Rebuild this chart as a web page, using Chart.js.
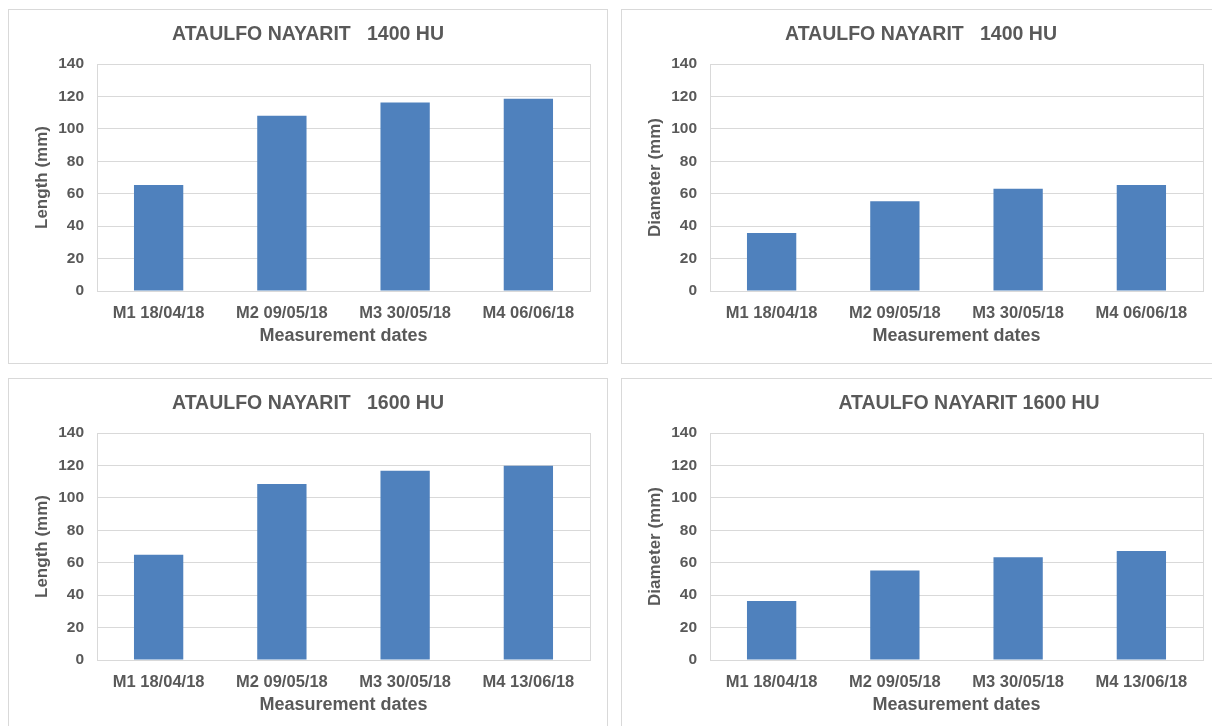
<!DOCTYPE html>
<html>
<head>
<meta charset="utf-8">
<title>Ataulfo Nayarit - length and diameter</title>
<script src="https://cdn.jsdelivr.net/npm/chart.js@4.4.1/dist/chart.umd.min.js"></script>
<style>
  body { margin: 0; background: #fff; width: 1212px; height: 726px; overflow: hidden; position: relative; }
  .panel { position: absolute; width: 598px; height: 353px; border: 1px solid #d9d9d9; background: #fff; }
  .panel canvas { display: block; }
</style>
</head>
<body>
<div class="panel" style="left:8px;top:9px"><canvas id="len1400" width="598" height="353"></canvas></div>
<div class="panel" style="left:621px;top:9px"><canvas id="dia1400" width="598" height="353"></canvas></div>
<div class="panel" style="left:8px;top:378px"><canvas id="len1600" width="598" height="353"></canvas></div>
<div class="panel" style="left:621px;top:378px"><canvas id="dia1600" width="598" height="353"></canvas></div>

<script>
// Data
const dates1400 = ["M1 18/04/18", "M2 09/05/18", "M3 30/05/18", "M4 06/06/18"];
const dates1600 = ["M1 18/04/18", "M2 09/05/18", "M3 30/05/18", "M4 13/06/18"];
const length1400 = [65.3, 108.1, 116.3, 118.6];
const diameter1400 = [35.8, 55.4, 63.0, 65.3];
const length1600 = [64.9, 108.5, 116.7, 119.8];
const diameter1600 = [36.4, 55.2, 63.4, 67.3];
const yMax = 140;
const yStep = 20;

const FONT = "'Liberation Sans', Arial, sans-serif";
const TEXT = "#595959";
const GRID = "#d9d9d9";
const BAR = "#4f81bd";

// Plot area border + chart title
const panelFrame = {
  id: "panelFrame",
  beforeDatasetsDraw(chart) {
    const { ctx, chartArea: a } = chart;
    ctx.save();
    ctx.strokeStyle = GRID;
    ctx.lineWidth = 1;
    ctx.strokeRect(Math.round(a.left) + 0.5, Math.round(a.top) + 0.5,
      Math.round(a.right - a.left), Math.round(a.bottom - a.top));
    ctx.restore();
  },
  afterDraw(chart, args, opts) {
    const ctx = chart.ctx;
    ctx.save();
    ctx.font = "bold 19.5px " + FONT;
    ctx.fillStyle = TEXT;
    ctx.textAlign = "center";
    ctx.textBaseline = "alphabetic";
    ctx.fillText(opts.text, chart.width / 2 + (opts.dx || 0), 30);
    ctx.restore();
  }
};

function makeChart(id, labels, values, yTitle, title, dx) {
  return new Chart(document.getElementById(id), {
    type: "bar",
    data: {
      labels: labels,
      datasets: [{ data: values, backgroundColor: BAR, barPercentage: 0.4, categoryPercentage: 1 }]
    },
    options: {
      responsive: false,
      animation: false,
      devicePixelRatio: 1,
      layout: { padding: { top: 54, right: 17, left: 0, bottom: 0 } },
      plugins: {
        legend: { display: false },
        tooltip: { enabled: false },
        panelFrame: { text: title, dx: dx }
      },
      scales: {
        x: {
          grid: { display: false },
          border: { display: false },
          ticks: { color: TEXT, font: { family: FONT, size: 16.5, weight: "bold" }, padding: 5, maxRotation: 0, autoSkip: false },
          title: { display: true, text: "Measurement dates", color: TEXT, font: { family: FONT, size: 18, weight: "bold" }, padding: { top: 0, bottom: 16 } },
          afterFit: s => { s.height = 72; }
        },
        y: {
          min: 0,
          max: yMax,
          grid: { color: GRID, drawTicks: false },
          border: { display: false },
          ticks: { stepSize: yStep, color: TEXT, font: { family: FONT, size: 15.5, weight: "bold" }, padding: 13 },
          title: { display: true, text: yTitle, color: TEXT, font: { family: FONT, size: 17, weight: "bold" }, padding: { top: 23, bottom: 0 } },
          afterFit: s => { s.width = 88; }
        }
      }
    },
    plugins: [panelFrame]
  });
}

// Init
makeChart("len1400", dates1400, length1400, "Length (mm)", "ATAULFO NAYARIT   1400 HU", 0);
makeChart("dia1400", dates1400, diameter1400, "Diameter (mm)", "ATAULFO NAYARIT   1400 HU", 0);
makeChart("len1600", dates1600, length1600, "Length (mm)", "ATAULFO NAYARIT   1600 HU", 0);
makeChart("dia1600", dates1600, diameter1600, "Diameter (mm)", "ATAULFO NAYARIT 1600 HU", 48);
</script>
</body>
</html>
